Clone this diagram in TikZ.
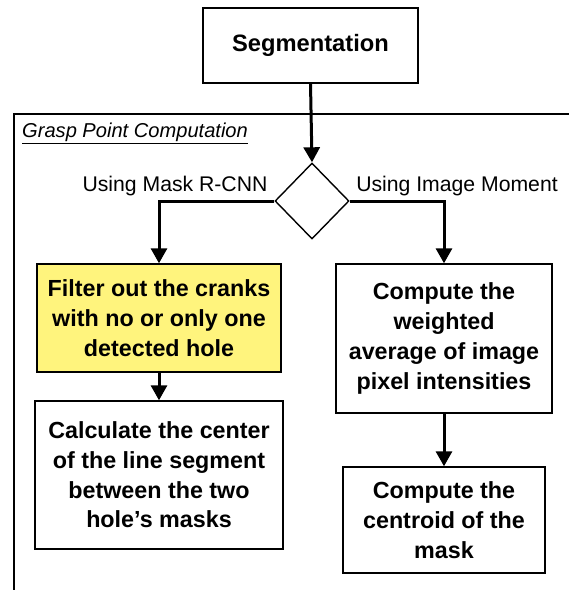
\documentclass[tikz,border=0pt]{standalone}
\usepackage{fontspec}
\setmainfont{Liberation Sans}
\usetikzlibrary{shapes.geometric,arrows.meta}
\definecolor{hl}{RGB}{255,244,125}
\tikzset{
  box/.style={draw=black, line width=1.4pt, align=center, inner sep=0pt,
    font=\fontsize{23.3}{29.7}\selectfont\bfseries},
  conn/.style={line width=3pt, -{Triangle[width=16pt,length=15pt]}},
  lbl/.style={font=\fontsize{21.2}{25}\selectfont, inner sep=0pt},
  frame/.style={line width=1.4pt}
}
\begin{document}
\begin{tikzpicture}[x=1pt,y=-1pt]
\useasboundingbox (0,0) rectangle (569,590);
% outer frame (cut by image border)
\coordinate (fbl) at (14,590);
\coordinate (ftl) at (14,114);
\coordinate (ftr) at (569,114);
\draw[frame] (fbl) -- (ftl) -- (ftr);
\node[lbl, anchor=west, font=\fontsize{20.1}{24}\selectfont\itshape] (title) at (22,133) {\underline{Grasp Point Computation}};

\node[box, minimum width=215pt, minimum height=75pt, font=\fontsize{23.7}{28}\selectfont\bfseries] (seg) at (310.5,45.5) {Segmentation};
\node[draw=black, line width=1.4pt, diamond, minimum width=74pt, minimum height=76pt, inner sep=0pt] (dia) at (312,201) {};

\node[box, fill=hl, minimum width=244pt, minimum height=108pt] (filt) at (159,318)
  {Filter out the cranks\\with no or only one\\detected hole};
\node[box, minimum width=248pt, minimum height=148pt] (calc) at (159,475)
  {Calculate the center\\of the line segment\\between the two\\hole’s masks};
\node[box, minimum width=216pt, minimum height=149pt] (avg) at (444,338.5)
  {Compute the\\weighted\\average of image\\pixel intensities};
\node[box, minimum width=202pt, minimum height=106pt] (cent) at (444,520)
  {Compute the\\centroid of the\\mask};

\node[lbl] (lmask) at (175,186) {Using Mask R-CNN};
\node[lbl] (limg) at (457,186) {Using Image Moment};

\draw[conn] (seg.south) -- (dia.north);
\draw[conn] (dia.west) -| (filt.north);
\draw[conn] (dia.east) -| (avg.north);
\draw[conn] (filt.south) -- (calc.north);
\draw[conn] (avg.south) -- (cent.north);
\end{tikzpicture}
\end{document}
